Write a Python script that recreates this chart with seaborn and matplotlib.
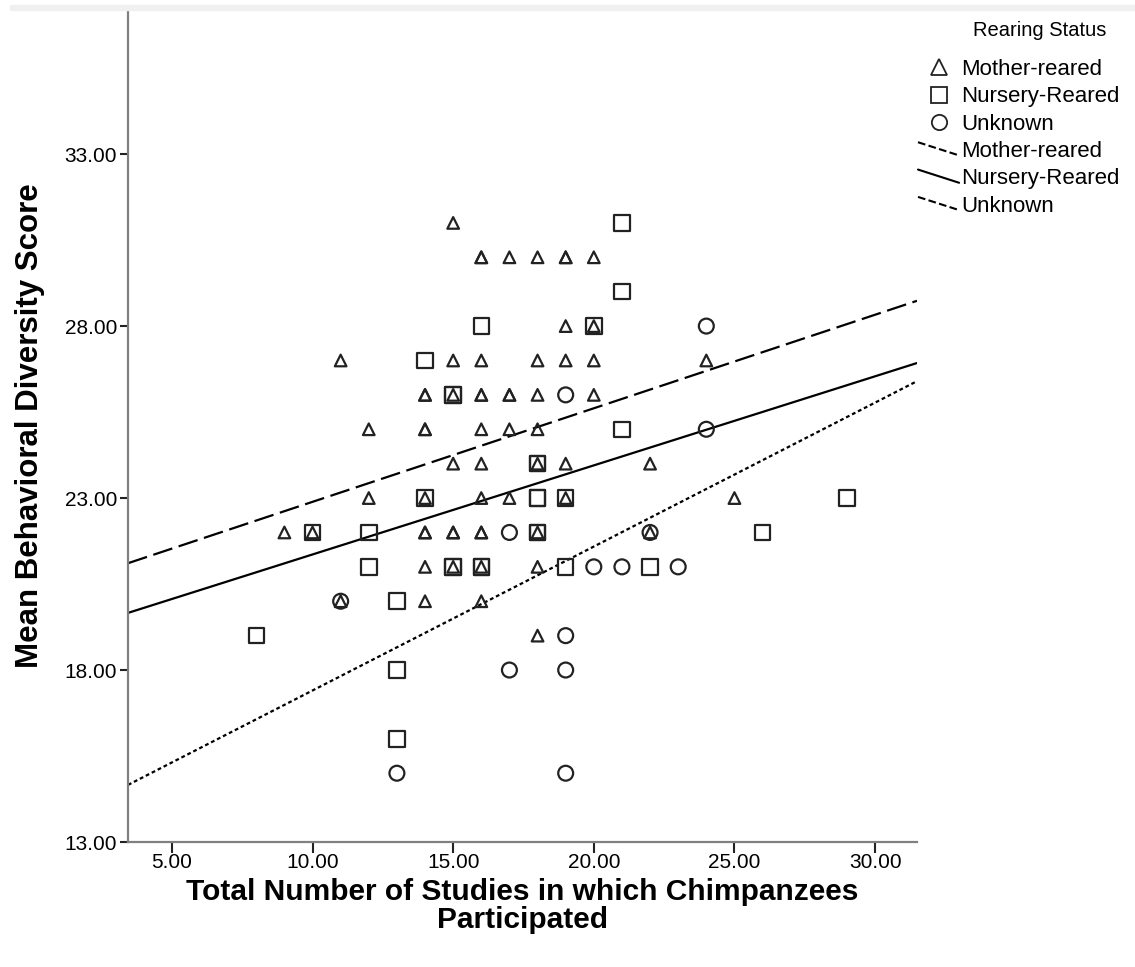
import matplotlib
matplotlib.use("Agg")
import matplotlib.pyplot as plt
from matplotlib.lines import Line2D
from matplotlib.patches import Rectangle
from matplotlib.legend_handler import HandlerBase
import seaborn as sns
import pandas as pd

# Data (x = number of studies, y = behavioral diversity score)
mother_x = [15, 16, 16, 17, 18, 19, 19, 20,
            19, 20,
            11, 15, 16, 18, 19, 20, 24,
            14, 14, 15, 16, 16, 17, 17, 18, 20,
            12, 14, 14, 16, 17, 18,
            15, 16, 18, 19, 22,
            12, 14, 16, 17, 19, 25,
            9, 10, 14, 14, 15, 15, 16, 16, 18, 22,
            14, 15, 16, 18,
            11, 14, 16,
            18]
mother_y = [31, 30, 30, 30, 30, 30, 30, 30,
            28, 28,
            27, 27, 27, 27, 27, 27, 27,
            26, 26, 26, 26, 26, 26, 26, 26, 26,
            25, 25, 25, 25, 25, 25,
            24, 24, 24, 24, 24,
            23, 23, 23, 23, 23, 23,
            22, 22, 22, 22, 22, 22, 22, 22, 22, 22,
            21, 21, 21, 21,
            20, 20, 20,
            19]

nursery_x = [21, 21, 16, 20, 14, 15, 15, 21, 18, 18,
             14, 18, 18, 19, 29,
             10, 12, 18, 18, 26,
             12, 15, 15, 16, 16, 19, 22,
             13, 8, 13, 13]
nursery_y = [31, 29, 28, 28, 27, 26, 26, 25, 24, 24,
             23, 23, 23, 23, 23,
             22, 22, 22, 22, 22,
             21, 21, 21, 21, 21, 21, 21,
             20, 19, 18, 16]

unknown_x = [24, 19, 24, 17, 22, 20, 21, 23, 11, 19, 17, 19, 13, 19]
unknown_y = [28, 26, 25, 22, 22, 21, 21, 21, 20, 19, 18, 18, 15, 15]

groups = ["Mother-reared", "Nursery-Reared", "Unknown"]
# fit lines per group (intercept, slope)
fit_intercept = [20.17, 18.77, 13.22]
fit_slope = [0.272, 0.259, 0.4185]

x_ticks = [5, 10, 15, 20, 25, 30]
y_ticks = [13, 18, 23, 28, 33]

df = pd.concat([
    pd.DataFrame({"studies": mother_x, "score": mother_y, "status": groups[0]}),
    pd.DataFrame({"studies": nursery_x, "score": nursery_y, "status": groups[1]}),
    pd.DataFrame({"studies": unknown_x, "score": unknown_y, "status": groups[2]}),
])

sns.set_style("white")
plt.rcParams["font.family"] = ["Liberation Sans", "DejaVu Sans"]
plt.rcParams["text.color"] = "black"
plt.rcParams["axes.labelcolor"] = "black"


class SlantHandler(HandlerBase):
    # SPSS style legend lines, drawn slightly downhill
    def create_artists(self, legend, orig_handle, xdescent, ydescent,
                       width, height, fontsize, trans):
        x0 = -xdescent
        line = Line2D([x0, x0 + width], [height * 0.95 - ydescent, -ydescent + height * 0.1],
                      color=orig_handle.get_color(),
                      linewidth=orig_handle.get_linewidth(),
                      linestyle=orig_handle.get_linestyle())
        line.set_transform(trans)
        return [line]


fig = plt.figure(figsize=(11.35, 9.67), dpi=100)
ax = fig.add_axes([128 / 1135, 1 - 842 / 967, (917 - 128) / 1135, (842 - 10) / 967])

# light grey band at the top of the chart frame
fig.patches.append(Rectangle((10 / 1135, 1 - 10 / 967), 1, 5 / 967,
                             transform=fig.transFigure, color="#f0f0f0", zorder=0))

markers = {"Mother-reared": "^", "Nursery-Reared": "s", "Unknown": "o"}
sizes = {"Mother-reared": 70, "Nursery-Reared": 125, "Unknown": 115}
for g in groups:
    sub = df[df["status"] == g]
    sns.scatterplot(data=sub, x="studies", y="score", marker=markers[g],
                    s=sizes[g], facecolor="none", edgecolor="#222222",
                    linewidth=1.6, ax=ax, legend=False, zorder=3)

styles = [(0, (9, 3)), "-", (0, (1.7, 1.3))]
ax.set_xlim(3.44, 31.49)
ax.set_ylim(13, 37.19)
for b, m, ls in zip(fit_intercept, fit_slope, styles):
    ax.axline((0, b), slope=m, color="black", linewidth=1.6, linestyle=ls, zorder=2)

ax.set_xticks(x_ticks)
ax.set_yticks(y_ticks)
ax.set_xticklabels([f"{v:.2f}" for v in x_ticks])
ax.set_yticklabels([f"{v:.2f}" for v in y_ticks])
ax.tick_params(axis="both", direction="out", colors="#222222", labelcolor="black",
               labelsize=15, width=1.5, left=True, bottom=True)
ax.tick_params(axis="x", length=8, pad=0)
ax.tick_params(axis="y", length=6, pad=2)

for side in ["top", "right"]:
    ax.spines[side].set_visible(False)
for side in ["left", "bottom"]:
    ax.spines[side].set_color("#808080")
    ax.spines[side].set_linewidth(1.6)

ax.set_xlabel("Total Number of Studies in which Chimpanzees\nParticipated",
              fontsize=21.5, fontweight="bold", labelpad=4, linespacing=1.02)
ax.set_ylabel("Mean Behavioral Diversity Score", fontsize=22.5, fontweight="bold",
              labelpad=14)

handles = [Line2D([], [], marker=markers[g], linestyle="none", markersize=11,
                  markerfacecolor="none", markeredgecolor="#222222",
                  markeredgewidth=1.3, label=g) for g in groups]
line_handles = [Line2D([], [], color="black", linewidth=1.5, linestyle=ls, label=g)
                for g, ls in zip(groups, styles)]
fig.text(1106 / 1135, 1 - 30 / 967, "Rearing Status", fontsize=14.5,
         ha="right", va="center")
leg = fig.legend(handles=handles + line_handles, loc="upper left",
                 bbox_to_anchor=(918 / 1135, 1 - 59 / 967), frameon=False,
                 fontsize=16, handlelength=1.85, handletextpad=0.1,
                 labelspacing=0.285, borderaxespad=0, borderpad=0,
                 handler_map={h: SlantHandler() for h in line_handles})

fig.savefig("out.png", dpi=100)
